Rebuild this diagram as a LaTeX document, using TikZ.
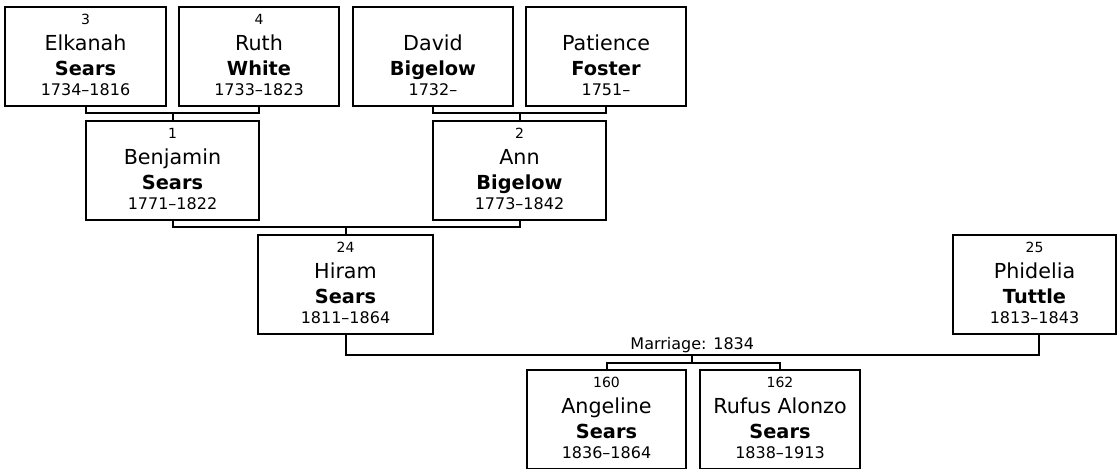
\documentclass[tikz,border=0pt]{standalone}
\usepackage{fontspec}
\setmainfont{DejaVu Sans}
\usetikzlibrary{positioning,calc}
\tikzset{
	tree/.style={x=0.75pt,y=-0.75pt},
	person/.style={rectangle,draw,line width=1.5pt,inner sep=0pt,outer sep=0pt,
		minimum height=74.25pt,align=center,text depth=2.2pt,font=\fontsize{12}{15.5}\selectfont},
	link/.style={line width=1.5pt},
	wed/.style={font=\fontsize{12}{14}\selectfont,anchor=base,inner sep=0pt}
}
\newcommand{\pers}[4]{{\fontsize{10.5}{12}\selectfont\vphantom{0}#1}\\[3.6pt]{\fontsize{15.5}{18}\selectfont #2}\\[3.25pt]{\fontsize{14.5}{18}\selectfont\bfseries #3}\\#4}

\begin{document}
\begin{tikzpicture}[tree]
	\useasboundingbox (0,0) rectangle (1117,468);
	\clip (0,0) rectangle (1117,468);
	
	\node[person,minimum width=120.75pt] (elkanah) at (85.5,56.5) {\pers{3}{Elkanah}{Sears}{1734--1816}};
	\node[person,minimum width=120pt] (ruth) at (259,56.5) {\pers{4}{Ruth}{White}{1733--1823}};
	\node[person,minimum width=120pt] (david) at (433,56.5) {\pers{}{David}{Bigelow}{1732--}};
	\node[person,minimum width=120pt] (patience) at (606,56.5) {\pers{}{Patience}{Foster}{1751--}};
	\node[person,minimum width=129.75pt] (benjamin) at (172.5,170.5) {\pers{1}{Benjamin}{Sears}{1771--1822}};
	\node[person,minimum width=129.75pt] (ann) at (519.5,170.5) {\pers{2}{Ann}{Bigelow}{1773--1842}};
	\node[person,minimum width=131.25pt] (hiram) at (345.5,284.5) {\pers{24}{Hiram}{Sears}{1811--1864}};
	\node[person,minimum width=122.25pt] (phidelia) at (1034.5,284.5) {\pers{25}{Phidelia}{Tuttle}{1813--1843}};
	\node[person,minimum width=119.25pt] (angeline) at (606.5,419.5) {\pers{160}{Angeline}{Sears}{1836--1864}};
	\node[person,minimum width=120pt] (rufus) at (780,419.5) {\pers{162}{Rufus Alonzo}{Sears}{1838--1913}};
	
	% parents
	\path (benjamin.north) ++(0,-8) coordinate (p1);
	\path (ann.north) ++(0,-8) coordinate (p2);
	\path (hiram.north) ++(0,-8) coordinate (p3);
	\draw[link] (elkanah.south) |- (p1) -| (ruth.south);
	\draw[link] (p1) -- (benjamin.north);
	\draw[link] (david.south) |- (p2) -| (patience.south);
	\draw[link] (p2) -- (ann.north);
	\draw[link] (benjamin.south) |- (p3) -| (ann.south);
	\draw[link] (p3) -- (hiram.north);
	
	% marriage
	\coordinate (m) at ($(hiram.south)!.5!([xshift=3.4pt]phidelia.south)+(0,20.5)$);
	\path (m) ++(0,8.5) coordinate (c);
	\draw[link] (hiram.south) |- (m) -| ([xshift=3.4pt]phidelia.south);
	\node[wed] (wedlabel) at ([yshift=3.4pt]m) {Marriage: 1834};
	\draw[link] (m) -- (c);
	\draw[link] (angeline.north) |- (c) -| (rufus.north);
	
\end{tikzpicture}
\end{document}
